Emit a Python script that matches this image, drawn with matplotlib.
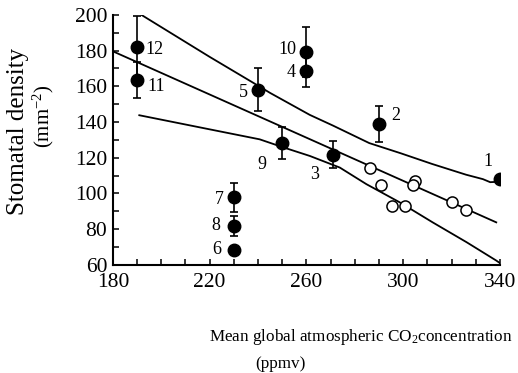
import matplotlib
matplotlib.use("Agg")
import matplotlib.pyplot as plt
from matplotlib.ticker import MultipleLocator, FixedLocator

plt.rcParams['font.family'] = ['Liberation Serif', 'DejaVu Serif']
plt.rcParams['mathtext.fontset'] = 'custom'
plt.rcParams['mathtext.rm'] = 'Liberation Serif'
plt.rcParams['mathtext.it'] = 'Liberation Serif:italic'

# Filled (numbered) points
labels = ['1', '2', '3', '4', '5', '6', '7', '8', '9', '10', '11', '12']
co2 = [340, 290, 271, 260, 240, 230, 230, 230, 250, 260, 190, 190]
density = [108, 139, 121.7, 168.8, 158.2, 68.5, 97.8, 81.9, 128.4, 179, 163.4, 182.3]
err = [0, 10, 7.5, 9, 12, 0, 8, 5.5, 9, 14, 10, 17]
label_offsets = [(-12, 18), (17, 8), (-18, -20), (-15, -2), (-15, -3), (-17, 0),
                 (-15, -2), (-18, 0), (-20, -22), (-19, 3), (19, -6), (17, -3)]

# Open circles
open_co2 = [286.2, 291, 304.8, 304.1, 295.2, 300.7, 320, 326.2]
open_density = [114.5, 104.6, 107, 104.6, 92.7, 92.7, 95.3, 90.9]

# Regression line and bands
mid_x = [180, 338.5]
mid_y = [179.6, 83.8]
upper_x = [190, 220, 237, 245, 261.4, 271, 286, 299, 312, 319, 326, 333, 336, 339]
upper_y = [201.5, 176.5, 162.8, 156.3, 144, 138, 128.2, 122.5, 116.5, 113.5, 110.5, 108, 106.3, 106.5]
lower_x = [190.9, 220, 240.7, 250, 261.4, 273.8, 284.8, 298.6, 312.2, 326.2, 338.5, 340]
lower_y = [143.8, 135.9, 130.3, 126, 121, 114.5, 105.2, 95, 83.8, 72.7, 62.4, 61]

fig = plt.figure(figsize=(5.18, 3.73), dpi=100)
ax = fig.add_axes([0.218, 0.290, 0.747, 0.670])

lw = 1.3
ax.plot(mid_x, mid_y, color='black', lw=lw, zorder=2)
ax.plot(upper_x, upper_y, color='black', lw=lw, zorder=2)
ax.plot(lower_x, lower_y, color='black', lw=lw, zorder=2)

ax.errorbar(co2, density, yerr=err, fmt='o', color='black', ms=9,
            ecolor='black', elinewidth=1.2, capsize=3, capthick=1.2, zorder=4)
ax.plot(open_co2, open_density, 'o', mfc='white', mec='black', mew=1.1, ms=8, zorder=3)

for lab, x, y, off in zip(labels, co2, density, label_offsets):
    ax.annotate(lab, (x, y), xytext=off, textcoords='offset pixels',
                ha='center', va='center', fontsize=13)

ax.set_xlim(180, 340)
ax.set_ylim(60, 200)
ax.xaxis.set_major_locator(FixedLocator([180, 220, 260, 300, 340]))
ax.xaxis.set_minor_locator(MultipleLocator(10))
ax.yaxis.set_major_locator(MultipleLocator(20))
ax.yaxis.set_minor_locator(MultipleLocator(10))
ax.tick_params(which='both', direction='in', width=1.1, length=4, labelsize=15.5)
ax.tick_params(axis='x', pad=6)
ax.tick_params(axis='y', pad=4)
for s in ['top', 'right']:
    ax.spines[s].set_visible(False)
for s in ['left', 'bottom']:
    ax.spines[s].set_linewidth(1.5)

fig.text(0.035, 0.647, 'Stomatal density', rotation=90, ha='center', va='center', fontsize=18)
fig.text(0.084, 0.689, r'(mm$^{-2}$)', rotation=90, ha='center', va='center', fontsize=15)
fig.text(0.697, 0.0965, r'Mean global atmospheric CO$_2$concentration', ha='center', va='center', fontsize=12.3)
fig.text(0.541, 0.024, '(ppmv)', ha='center', va='center', fontsize=12.3)

fig.savefig('out.png', dpi=100)
